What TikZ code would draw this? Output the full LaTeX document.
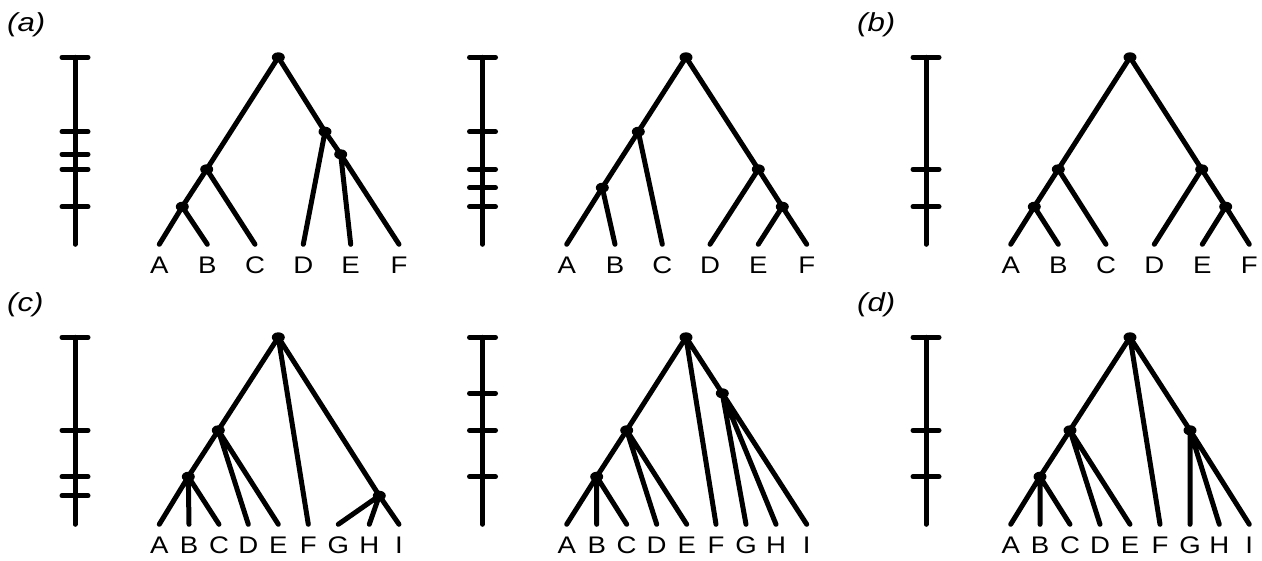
\documentclass[tikz,border=0pt]{standalone}
\usepackage{fontspec}
\setmainfont{Liberation Sans}
\usetikzlibrary{calc}
\begin{document}
\begin{tikzpicture}[x=1pt,y=-1pt,
  ln/.style={line width=5pt,line cap=round},
  bar/.style={line width=5pt,line cap=round},
  lab/.style={anchor=base,inner sep=0pt,font=\fontsize{24}{24}\selectfont,xscale=1.15},
  plab/.style={anchor=base west,inner sep=0pt,font=\fontsize{26}{26}\selectfont\itshape,xscale=1.2},
  dotfill/.style={fill=black}]
\useasboundingbox (0,0) rectangle (1262,560);
% panel labels
\node[plab] (la) at (7,31) {(a)};
\node[plab] (lb) at (857,31) {(b)};
\node[plab] (lc) at (7,311) {(c)};
\node[plab] (ld) at (857,311) {(d)};
% scale bars
\draw[bar] (75,57.3) -- (75,244.3);
\foreach \y in {57.3,131.7,154.3,169.3,206.7} \draw[bar] (62,\y) -- (88,\y);
\draw[bar] (482.5,57.3) -- (482.5,244.3);
\foreach \y in {57.3,131.7,169.3,187.7,206.7} \draw[bar] (469.5,\y) -- (495.5,\y);
\draw[bar] (926,57.3) -- (926,244.3);
\foreach \y in {57.3,169.3,206.7} \draw[bar] (913,\y) -- (939,\y);
\draw[bar] (75,337.3) -- (75,524.3);
\foreach \y in {337.3,430.3,476.7,495.7} \draw[bar] (62,\y) -- (88,\y);
\draw[bar] (482.5,337.3) -- (482.5,524.3);
\foreach \y in {337.3,393.3,430.3,476.7} \draw[bar] (469.5,\y) -- (495.5,\y);
\draw[bar] (926,337.3) -- (926,524.3);
\foreach \y in {337.3,430.3,476.7} \draw[bar] (913,\y) -- (939,\y);
% leaves and labels, top row
\foreach \p/\xs in {1/{159.3,207.3,255,303.3,350.7,399},2/{566.7,615,662.3,710,758.3,806.7},3/{1010.7,1058.3,1106,1154.3,1202.3,1249.3}}{
  \foreach \x [count=\i] in \xs {
    \pgfmathsetmacro{\L}{{"A","B","C","D","E","F"}[\i-1]}
    \coordinate (p\p\L) at (\x,244.3);
    \node[lab] (t\p\L) at (\x,273.5) {\L};
  }
}
% leaves and labels, bottom row
\foreach \p/\xs in {4/{159.3,189,219,248.3,278.3,308.3,338.3,369.3,399},5/{566.7,596.7,626.7,656.7,686.7,716,746,776,806.7},6/{1010.7,1040,1070,1100,1130,1160,1190,1219.3,1249.3}}{
  \foreach \x [count=\i] in \xs {
    \pgfmathsetmacro{\L}{{"A","B","C","D","E","F","G","H","I"}[\i-1]}
    \coordinate (p\p\L) at (\x,524.3);
    \node[lab] (t\p\L) at (\x,553.5) {\L};
  }
}
% internal nodes
\coordinate (p1r) at (278.3,57.3);
\coordinate (p1n1) at (325,131.7);
\coordinate (p1n2) at (340.7,154.3);
\coordinate (p1n3) at (206.7,169.3);
\coordinate (p1n4) at (182.3,206.7);
\coordinate (p2r) at (686,57.3);
\coordinate (p2n1) at (638.3,131.7);
\coordinate (p2n2) at (602.3,187.7);
\coordinate (p2n3) at (758.3,169.3);
\coordinate (p2n4) at (782.3,206.7);
\coordinate (p3r) at (1130,57.3);
\coordinate (p3n1) at (1058.3,169.3);
\coordinate (p3n2) at (1034.3,206.7);
\coordinate (p3n3) at (1201.7,169.3);
\coordinate (p3n4) at (1225.7,206.7);
\coordinate (p4r) at (278.3,337.3);
\coordinate (p4n1) at (218.3,430.3);
\coordinate (p4n2) at (188.3,476.7);
\coordinate (p4n3) at (379.3,495.7);
\coordinate (p5r) at (686,337.3);
\coordinate (p5n1) at (626.7,430.3);
\coordinate (p5n2) at (596.7,476.7);
\coordinate (p5n3) at (722.3,393.3);
\coordinate (p6r) at (1130,337.3);
\coordinate (p6n1) at (1070,430.3);
\coordinate (p6n2) at (1040,476.7);
\coordinate (p6n3) at (1190,430.3);
% edges
\draw[ln] (p1r)--(p1n1) (p1r)--(p1n3) (p1n1)--(p1D) (p1n1)--(p1n2) (p1n2)--(p1E) (p1n2)--(p1F)
  (p1n3)--(p1n4) (p1n3)--(p1C) (p1n4)--(p1A) (p1n4)--(p1B);
\draw[ln] (p2r)--(p2n1) (p2r)--(p2n3) (p2n1)--(p2n2) (p2n1)--(p2C) (p2n2)--(p2A) (p2n2)--(p2B)
  (p2n3)--(p2D) (p2n3)--(p2n4) (p2n4)--(p2E) (p2n4)--(p2F);
\draw[ln] (p3r)--(p3n1) (p3r)--(p3n3) (p3n1)--(p3n2) (p3n1)--(p3C) (p3n2)--(p3A) (p3n2)--(p3B)
  (p3n3)--(p3D) (p3n3)--(p3n4) (p3n4)--(p3E) (p3n4)--(p3F);
\foreach \p in {4,5,6}{
  \draw[ln] (p\p r)--(p\p n1) (p\p r)--(p\p F) (p\p r)--(p\p n3)
    (p\p n1)--(p\p n2) (p\p n1)--(p\p D) (p\p n1)--(p\p E)
    (p\p n2)--(p\p A) (p\p n2)--(p\p B) (p\p n2)--(p\p C)
    (p\p n3)--(p\p G) (p\p n3)--(p\p H) (p\p n3)--(p\p I);
}
% dots
\foreach \p in {1,2,3}{
  \foreach \n in {r,n1,n2,n3,n4} \fill[dotfill] (p\p\n) ellipse [x radius=6.5pt,y radius=5pt];
}
\foreach \p in {4,5,6}{
  \foreach \n in {r,n1,n2,n3} \fill[dotfill] (p\p\n) ellipse [x radius=6.5pt,y radius=5pt];
}
\end{tikzpicture}
\end{document}
